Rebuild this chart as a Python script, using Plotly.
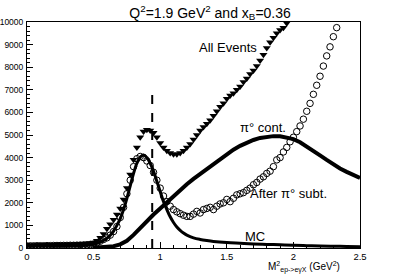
import plotly.graph_objects as go

BIN = 0.025

# All Events (filled down-triangles), bins of 0.025 starting at 0
all_events = [110,120,125,130,130,135,140,140,145,150,150,155,160,165,170,175,180,190,200,215,
              240,320,450,620,850,1050,1250,1480,1750,2150,2650,3250,3900,4450,4900,5150,5230,5200,5100,4900,
              4650,4450,4300,4200,4150,4150,4200,4300,4450,4600,4800,5000,5200,5350,5500,5650,5850,6050,6250,6400,
              6600,6750,6850,7000,7150,7350,7500,7700,7850,8050,8300,8550,8850,9100,9300,9500,9650,9750,9950,10300]

# After pi0 subtraction (open circles)
after_sub = [90,95,95,100,100,100,105,105,110,110,110,115,115,120,120,125,130,135,140,150,
             170,230,300,380,450,570,730,950,1350,1800,2400,3000,3600,3950,4050,4000,3850,3650,3350,3000,
             2650,2300,2050,1850,1700,1600,1520,1450,1400,1400,1500,1620,1550,1700,1750,1800,1700,1850,1950,2000,
             2150,2050,2200,2350,2400,2450,2550,2650,2800,2900,3050,3150,3300,3400,3600,3900,4000,4250,4450,4700,
             4900,5150,5400,5700,6050,6400,6800,7200,7600,8050,8500,8900,9350,9750]

# MC (thick line)
mc_x = [0,0.1,0.2,0.3,0.4,0.45,0.5,0.55,0.6,
        0.625,0.65,0.675,0.7,0.725,0.75,0.775,0.8,0.825,0.85,0.875,0.9,0.925,0.95,0.975,1.0,
        1.025,1.05,1.075,1.1,1.125,1.15,1.175,1.2,1.25,1.3,1.35,1.4,
        1.5,1.6,1.7,1.8,1.9,2.0,2.1,2.2,2.3,2.4,2.5]
mc_y = [80,85,90,95,105,120,160,260,430,
        560,750,1000,1300,1700,2200,2750,3300,3750,4030,4120,4000,3750,3400,2950,2500,
        2050,1700,1380,1130,930,780,660,570,450,380,330,290,
        240,210,180,160,140,120,105,90,80,70,60]

# pi0 contamination (thick jagged band)
pi0_x = [0.5,0.55,0.6,0.65,0.7,0.75,0.8,0.85,0.9,0.95,1.0,1.05,1.1,1.15,1.2,1.25,1.3,1.35,1.4,1.45,
         1.5,1.55,1.6,1.65,1.7,1.75,1.8,1.85,1.9,1.95,2.0,2.05,2.1,2.15,2.2,2.25,2.3,2.35,2.4,2.45,2.5]
pi0_y = [10,20,40,80,160,320,580,900,1200,1480,1750,2030,2300,2560,2820,3060,3280,3480,3700,3930,
         4150,4350,4520,4670,4780,4870,4930,4950,4940,4900,4820,4680,4500,4300,4100,3900,3700,3520,3370,3220,3100]

cut_x = 0.94
cut_top = 6850

x_ticks = [0, 0.5, 1, 1.5, 2, 2.5]
x_ticktext = ["0", "0.5", "1", "1.5", "2", "2.5"]
y_ticks = [0,1000,2000,3000,4000,5000,6000,7000,8000,9000,10000]
y_ticktext = ["0","1000","2000","3000","4000","5000","6000","7000","8000","9000","10000"]

ae_x = [round(i * BIN, 4) for i in range(len(all_events))]
as_x = [round(i * BIN, 4) for i in range(len(after_sub))]

FONT = "Liberation Sans, Arial, sans-serif"

fig = go.Figure()
fig.add_trace(go.Scatter(x=pi0_x, y=pi0_y, mode="lines",
                         line=dict(color="black", width=4), showlegend=False))
fig.add_trace(go.Scatter(x=mc_x, y=mc_y, mode="lines", line_shape="spline",
                         line=dict(color="black", width=3), showlegend=False))
fig.add_trace(go.Scatter(x=ae_x, y=all_events, mode="markers",
                         marker=dict(symbol="triangle-down", size=7, color="black"),
                         showlegend=False, cliponaxis=True))
fig.add_trace(go.Scatter(x=as_x, y=after_sub, mode="markers",
                         marker=dict(symbol="circle-open", size=6.5, color="black",
                                     line=dict(width=1, color="black")),
                         showlegend=False, cliponaxis=True))

fig.add_shape(type="line", x0=cut_x, x1=cut_x, y0=0, y1=cut_top, xref="x", yref="y",
              line=dict(color="black", width=2, dash="dash"))

ann_font = dict(family=FONT, size=13, color="black")
fig.add_annotation(x=1.51, y=8850, text="All Events", showarrow=False, font=ann_font)
fig.add_annotation(x=1.77, y=5350, text="π° cont.", showarrow=False, font=ann_font)
fig.add_annotation(x=1.965, y=2430, text="After π° subt.", showarrow=False, font=ann_font)
fig.add_annotation(x=1.71, y=530, text="MC", showarrow=False, font=ann_font)
fig.add_annotation(x=0.946, y=-0.085, xref="paper", yref="paper", xanchor="right", yanchor="middle",
                   text="M<sup>2</sup><sub>ep-&gt;eγX</sub> (GeV<sup>2</sup>)", showarrow=False,
                   font=dict(family=FONT, size=10, color="black"))

fig.update_layout(
    width=416, height=275,
    margin=dict(l=27, r=56, t=22, b=27, autoexpand=False),
    paper_bgcolor="white", plot_bgcolor="white",
    title=dict(text="Q<sup>2</sup>=1.9 GeV<sup>2</sup> and x<sub>B</sub>=0.36",
               x=0.505, xanchor="center", y=0.972, yanchor="top",
               font=dict(family=FONT, size=14, color="black")),
    font=dict(family=FONT, color="black"),
)
fig.update_xaxes(range=[0, 2.5], tickvals=x_ticks, ticktext=x_ticktext, automargin=False,
                 ticks="inside", ticklen=6, tickcolor="black", tickwidth=1,
                 minor=dict(ticks="inside", dtick=0.1, ticklen=3, tickcolor="black"),
                 showgrid=False, zeroline=False, showline=True, linecolor="black", linewidth=1,
                 mirror=True, tickfont=dict(size=9.5, family=FONT))
fig.update_yaxes(range=[0, 10000], tickvals=y_ticks, ticktext=y_ticktext, automargin=False,
                 ticks="inside", ticklen=6, tickcolor="black", tickwidth=1,
                 minor=dict(ticks="inside", dtick=200, ticklen=3, tickcolor="black"),
                 showgrid=False, zeroline=False, showline=True, linecolor="black", linewidth=1,
                 mirror=True, tickfont=dict(size=8.5, family=FONT), ticklabelstandoff=1)

fig.write_html("out.html", config={"displayModeBar": False},
               post_script="document.body.style.margin='0';document.body.style.overflow='hidden';")
